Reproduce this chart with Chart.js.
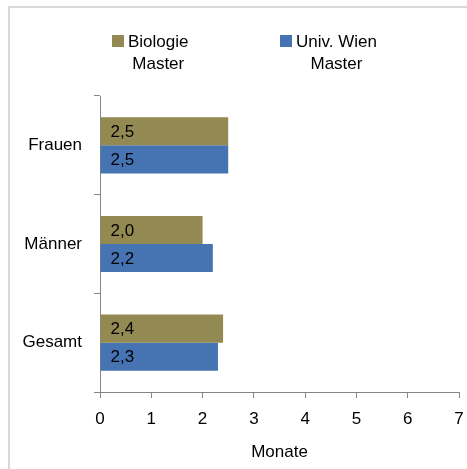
<!DOCTYPE html>
<html>
<head>
<meta charset="utf-8">
<script src="https://cdn.jsdelivr.net/npm/chart.js@4.4.0/dist/chart.umd.min.js"></script>
<style>
  html, body { margin: 0; padding: 0; background: #fff; }
  #wrap { position: relative; width: 467px; height: 469px; }
  #frame { position: absolute; left: 8px; top: 6px; right: 0; bottom: 0;
           border-left: 2px solid #d9d9d9; border-top: 2px solid #d9d9d9; }
  canvas { position: absolute; left: 0; top: 0; }
</style>
</head>
<body>
<div id="wrap">
  <div id="frame"></div>
  <canvas id="chart" width="467" height="469"></canvas>
</div>
<script>
// data
const categories = ['Frauen', 'Männer', 'Gesamt'];
const biologieMaster = [2.5, 2.0, 2.4];
const univWienMaster = [2.5, 2.2, 2.3];
const seriesNames = [['Biologie', 'Master'], ['Univ. Wien', 'Master']];
const xMin = 0, xMax = 7, xStep = 1;
const axisTitle = 'Monate';

const FONT = '"Liberation Sans", Arial, sans-serif';
const colors = ['#938953', '#4674B3'];

// legend drawn by hand so the two-line names work like Excel
const twoLineLegend = {
  id: 'twoLineLegend',
  afterDraw(chart) {
    const ctx = chart.ctx;
    const spots = [112, 280];
    ctx.save();
    ctx.font = '17px ' + FONT;
    ctx.textBaseline = 'middle';
    chart.data.datasets.forEach((ds, i) => {
      const x = spots[i];
      ctx.fillStyle = ds.backgroundColor;
      ctx.fillRect(x, 35, 12, 12);
      ctx.fillStyle = '#000';
      const lines = seriesNames[i];
      const w = ctx.measureText(lines[0]).width;
      const cx = x + 16 + w / 2;
      ctx.textAlign = 'center';
      lines.forEach((ln, k) => ctx.fillText(ln, cx, 42 + k * 22));
    });
    ctx.restore();
  }
};

// values written inside the bars, German decimal comma
const valueLabels = {
  id: 'valueLabels',
  afterDatasetsDraw(chart) {
    const ctx = chart.ctx;
    ctx.save();
    ctx.font = '17px ' + FONT;
    ctx.fillStyle = '#000';
    ctx.textBaseline = 'middle';
    chart.data.datasets.forEach((ds, i) => {
      chart.getDatasetMeta(i).data.forEach((bar, j) => {
        ctx.fillText(ds.data[j].toFixed(1).replace('.', ','), bar.base + 10, bar.y + 1);
      });
    });
    ctx.restore();
  }
};

new Chart(document.getElementById('chart'), {
  type: 'bar',
  data: {
    labels: categories,
    datasets: [
      { label: seriesNames[0].join(' '), data: biologieMaster, backgroundColor: colors[0] },
      { label: seriesNames[1].join(' '), data: univWienMaster, backgroundColor: colors[1] }
    ]
  },
  options: {
    indexAxis: 'y',
    responsive: false,
    animation: false,
    devicePixelRatio: 1,
    categoryPercentage: 0.57,
    barPercentage: 1,
    layout: { padding: { top: 96, right: 8, left: 0, bottom: 0 } },
    plugins: {
      legend: { display: false },
      tooltip: { enabled: false }
    },
    scales: {
      x: {
        min: xMin, max: xMax,
        ticks: { stepSize: xStep, color: '#000', font: { family: FONT, size: 17 }, padding: 11 },
        grid: { drawOnChartArea: false, drawTicks: true, tickLength: 6, color: '#868686' },
        border: { color: '#868686' },
        title: { display: true, text: axisTitle, color: '#000', font: { family: FONT, size: 17 },
                 padding: { top: 4, bottom: 6 } },
        afterFit(scale) {
          scale.height = 77;
          scale.paddingLeft = 0;
          scale.paddingRight = 0;
        }
      },
      y: {
        ticks: { color: '#000', font: { family: FONT, size: 17 }, padding: 12 },
        grid: { drawOnChartArea: false, drawTicks: true, tickLength: 6, color: '#868686' },
        border: { color: '#868686' },
        afterFit(scale) { scale.width = 100; }
      }
    }
  },
  plugins: [valueLabels, twoLineLegend]
});
</script>
</body>
</html>
